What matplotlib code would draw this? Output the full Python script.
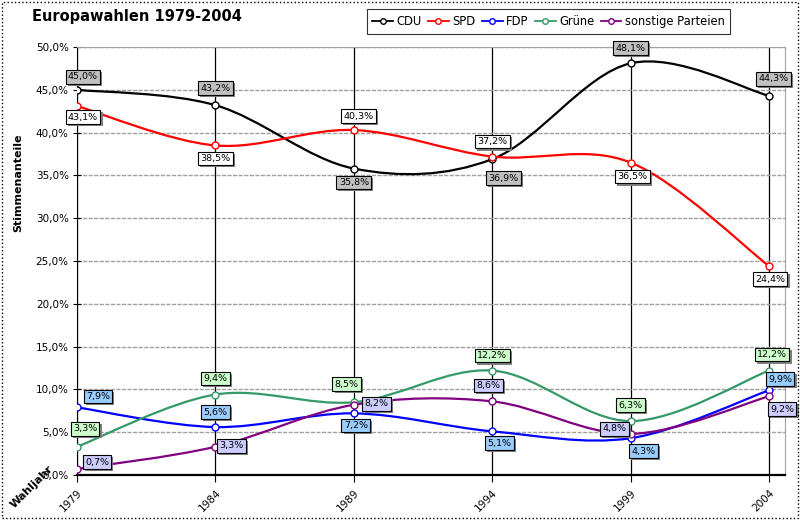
import matplotlib
matplotlib.use("Agg")
import matplotlib.pyplot as plt
import numpy as np
from matplotlib.path import Path
from matplotlib.patches import PathPatch, Rectangle
from matplotlib.lines import Line2D
import matplotlib.patheffects as pe

years = ["1979", "1984", "1989", "1994", "1999", "2004"]
cdu = [45.0, 43.2, 35.8, 36.9, 48.1, 44.3]
spd = [43.1, 38.5, 40.3, 37.2, 36.5, 24.4]
fdp = [7.9, 5.6, 7.2, 5.1, 4.3, 9.9]
gruene = [3.3, 9.4, 8.5, 12.2, 6.3, 12.2]
sonstige = [0.7, 3.3, 8.2, 8.6, 4.8, 9.2]
names = ["CDU", "SPD", "FDP", "Grüne", "sonstige Parteien"]

series = [cdu, spd, fdp, gruene, sonstige]
colors = ["#000000", "#ff0000", "#0000ff", "#339966", "#800080"]
box_fc = ["#c0c0c0", "#ffffff", "#99ccff", "#ccffcc", "#ccccff"]
# label offsets in pixels (dx, dy)
offsets = [
    [(6, 13), (0, 17), (0, -14), (11, -19), (0, 15), (4, 17)],
    [(6, -11), (0, -13), (5, 14), (0, 15), (2, -14), (1, -13)],
    [(21, 11), (0, 15), (2, -12), (7, -12), (13, -13), (11, 11)],
    [(8, 18), (0, 16), (-7, 18), (0, 15), (0, 16), (3, 16)],
    [(20, 7), (16, 1), (23, 1), (-4, 16), (-16, 5), (13, -13)],
]

fig = plt.figure(figsize=(8, 5.2), dpi=100)
ax = fig.add_axes([77/800, 1-475/520, (785-77)/800, (475-47)/520])

x = np.arange(len(years))


def smooth_path(xs, ys):
    pts = np.column_stack([xs, ys]).astype(float)
    n = len(pts)
    verts = [pts[0]]
    codes = [Path.MOVETO]
    for i in range(n - 1):
        p0 = pts[i - 1] if i > 0 else pts[i]
        p1 = pts[i]
        p2 = pts[i + 1]
        p3 = pts[i + 2] if i + 2 < n else pts[i + 1]
        c1 = p1 + (p2 - p0) / 6.0
        c2 = p2 - (p3 - p1) / 6.0
        verts += [c1, c2, p2]
        codes += [Path.CURVE4] * 3
    return Path(verts, codes)


for s, c in zip(series, colors):
    patch = PathPatch(smooth_path(x, s), fill=False, edgecolor=c, lw=1.6, zorder=3)
    ax.add_patch(patch)
    ax.plot(x, s, linestyle="none", marker="o", ms=5, mfc="white", mec=c, mew=1, zorder=4)

for s, fc, offs in zip(series, box_fc, offsets):
    for xi, v, (dx, dy) in zip(x, s, offs):
        t = ax.annotate(f"{v:.1f}%".replace(".", ","), (xi, v), xytext=(dx, dy),
                        textcoords="offset pixels", ha="center", va="center",
                        fontsize=6.8, zorder=6,
                        bbox=dict(boxstyle="square,pad=0.25", fc=fc, ec="black", lw=0.8))
        t.get_bbox_patch().set_path_effects([
            pe.SimplePatchShadow(offset=(1.5, -1.5), shadow_rgbFace="#808080", alpha=1),
            pe.Normal()])

ax.set_xlim(0, 5.115)
ax.set_ylim(0, 50)
ax.set_yticks(np.arange(0, 51, 5))
ax.set_yticklabels([f"{v:.1f}%".replace(".", ",") for v in np.arange(0, 51, 5)], fontsize=7.5)
ax.set_xticks(x)
ax.set_xticklabels(years, rotation=45, ha="right", va="top", rotation_mode="anchor", fontsize=7.5)
ax.tick_params(axis="y", direction="inout", length=6, pad=3)
ax.tick_params(axis="x", direction="out", length=5, pad=4)
ax.yaxis.grid(True, color="#a0a0a0", lw=1, ls=(0, (3, 1)))
ax.xaxis.grid(True, color="#000000", lw=0.9)
ax.set_axisbelow(True)
ax.spines["left"].set_color("black")
ax.spines["bottom"].set_color("black")
ax.spines["bottom"].set_linewidth(1.6)
ax.spines["top"].set_color("#a0a0a0")
ax.spines["right"].set_color("#a0a0a0")
ax.spines["right"].set_linestyle((0, (2, 1)))

fig.text(32/800, 1-17/520, "Europawahlen 1979-2004", fontsize=10.5, fontweight="bold",
         ha="left", va="center")
fig.text(18/800, 1-183/520, "Stimmenanteile", rotation=90, fontsize=8, fontweight="bold",
         ha="center", va="center")
fig.text(32/800, 1-487/520, "Wahljahr", rotation=45, fontsize=8, fontweight="bold",
         ha="center", va="center")

handles = [Line2D([0], [0], color=c, lw=1.3, marker="o", ms=4, mfc="white", mec=c)
           for c in colors]
leg = fig.legend(handles, names, loc="center", bbox_to_anchor=((367+730)/1600, 1-21.5/520),
                 ncol=5, fontsize=8.3, frameon=True, fancybox=False, edgecolor="black",
                 handlelength=1.8, handletextpad=0.3, columnspacing=0.55,
                 borderpad=0.5, shadow=False)
leg.get_frame().set_linewidth(0.8)

fig.patches.append(Rectangle((2/800, 2/520), 1-4/800, 1-4/520, transform=fig.transFigure,
                             fill=False, ec="black", lw=1, ls=":"))

fig.savefig("out.png", dpi=100)
